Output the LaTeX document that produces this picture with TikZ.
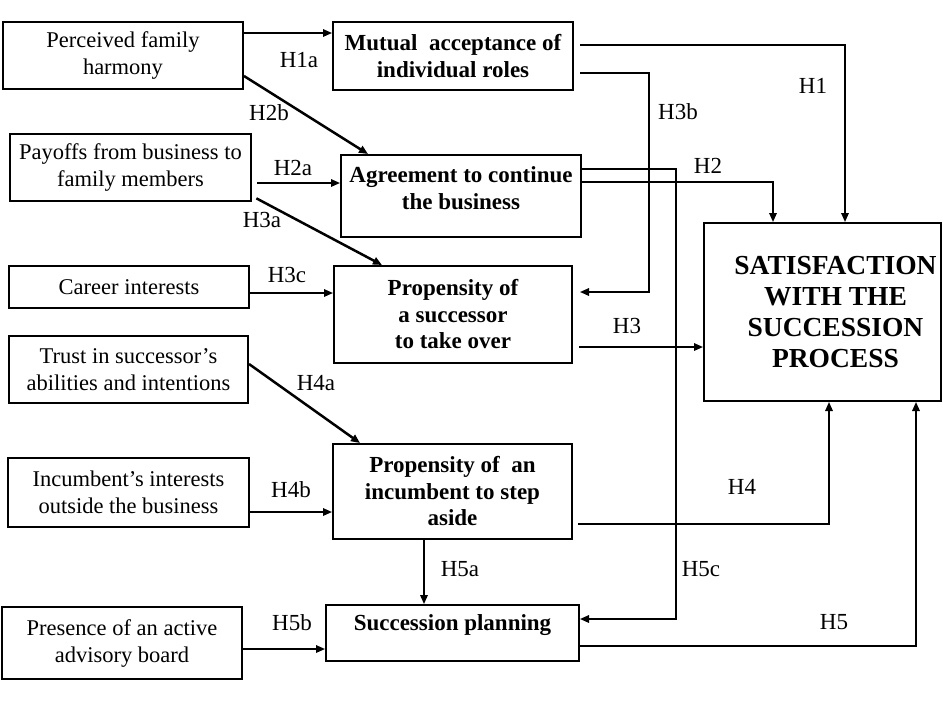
\documentclass[tikz,border=0pt]{standalone}
\usepackage{fontspec}
\setmainfont{Liberation Serif}
\usetikzlibrary{arrows.meta}
\begin{document}
\begin{tikzpicture}[x=1pt,y=-1pt,
  sz/.style 2 args={minimum width=#1pt, minimum height=#2pt},
  box/.style={draw, line width=2pt, inner sep=0pt, align=center},
  inbox/.style={box, font=\fontsize{22.5}{27}\selectfont},
  midfont/.style={font=\bfseries\fontsize{23}{26.5}\selectfont, align=center},
  midbox/.style={box, midfont},
  link/.style={line width=1.6pt, -{Triangle[length=9pt,width=7.5pt]}},
  slant/.style={link, line width=2.5pt},
  hyp/.style={font=\fontsize{23}{25}\selectfont, inner sep=0pt},
]
\useasboundingbox (0,0) rectangle (943,713);

% antecedent factors (left column)
\node[inbox, sz={240}{67}] (pfh) at (123,55.5) {Perceived family\\harmony};
\node[inbox, sz={241}{67}] (pay) at (130.5,167.5) {Payoffs from business to\\family members};
\node[inbox, sz={240}{42}] (car) at (129,287) {Career interests};
\node[inbox, sz={239}{67}] (tru) at (128.5,369.5) {Trust in successor’s\\abilities and intentions};
\node[inbox, sz={241}{69}] (ii)  at (128.5,492.5) {Incumbent’s interests\\outside the business};
\node[inbox, sz={240}{72}] (adv) at (122,643) {Presence of an active\\advisory board};

% mediating constructs (middle column)
\node[midbox, sz={240}{68}] (mut) at (453,56) {Mutual\enspace acceptance of\\individual roles};
\node[midbox, sz={240}{82}, label={[midfont, yshift=8pt]center:{Agreement to continue\\the business}}] (agr) at (461,196) {};
\node[midbox, sz={238}{97}] (suc) at (453,314.5) {Propensity of\\a successor\\to take over};
\node[midbox, sz={239}{95}] (inc) at (452.5,491.5) {Propensity of\enspace an\\incumbent to step\\aside};
\node[midbox, sz={253}{56}, label={[midfont, yshift=8pt]center:{Succession planning}}] (plan) at (452.5,633) {};

% outcome
\node[box, sz={237}{178}, label={[font=\bfseries\fontsize{27.5}{31}\selectfont, align=center, xshift=13pt]center:{SATISFACTION\\WITH THE\\SUCCESSION\\PROCESS}}] (sat) at (822.5,312) {};

% hypothesised links into the middle column
\draw[link] (pfh.east |- 0,33) -- (mut.west |- 0,33);
\draw[slant] (pfh.east |- 0,76) -- (agr.north -| 368,0);
\draw[link, shorten <=5pt] (pay.east |- 0,183) -- (agr.west |- 0,183);
\draw[slant, shorten <=5pt] (pay.east |- 0,196) -- (suc.north -| 382,0);
\draw[link] (car.east |- 0,293) -- (suc.west |- 0,293);
\draw[slant] (tru.east |- 0,364) -- (inc.north -| 360,0);
\draw[link] (ii.east |- 0,512) -- (inc.west |- 0,512);
\draw[link] (adv.east |- 0,649) -- (plan.west |- 0,649);
\draw[link] (inc.south -| 424,0) -- (plan.north -| 424,0);

% links between mediators and into the outcome
\draw[link, shorten <=6pt] (mut.east |- 0,45) -| (sat.north -| 845,0);
\draw[link, shorten <=6pt, shorten >=7pt] (mut.east |- 0,73) -- (649,73) |- (suc.east |- 0,292);
\draw[link] (agr.east |- 0,182) -| (sat.north -| 773,0);
\draw[link] (agr.east |- 0,169) -- (676,169) |- (plan.east |- 0,619);
\draw[link, shorten <=6pt] (suc.east |- 0,347) -- (sat.west |- 0,347);
\draw[link, shorten <=5pt] (inc.east |- 0,524) -| (sat.south -| 829,0);
\draw[link] (plan.east |- 0,646) -| (sat.south -| 916,0);

% hypothesis labels
\node[hyp] (l1a) at (299,60) {H1a};
\node[hyp] (l2b) at (269,113) {H2b};
\node[hyp] (l2a) at (293,168) {H2a};
\node[hyp] (l3a) at (262,220) {H3a};
\node[hyp] (l3c) at (287,275) {H3c};
\node[hyp] (l4a) at (316,383) {H4a};
\node[hyp] (l4b) at (291,490) {H4b};
\node[hyp] (l5b) at (292,623) {H5b};
\node[hyp] (l5a) at (460,569) {H5a};
\node[hyp] (l5c) at (701,569) {H5c};
\node[hyp] (l4)  at (742,487) {H4};
\node[hyp] (l5)  at (834,622) {H5};
\node[hyp] (l1)  at (813,86) {H1};
\node[hyp] (l3b) at (678,112) {H3b};
\node[hyp] (l2)  at (708,166) {H2};
\node[hyp] (l3)  at (627,326) {H3};
\end{tikzpicture}
\end{document}
